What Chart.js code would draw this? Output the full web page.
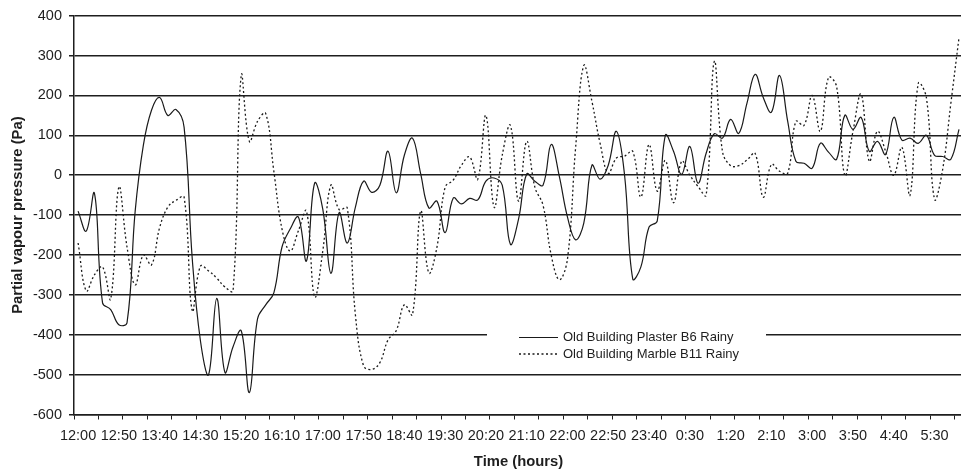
<!DOCTYPE html>
<html>
<head>
<meta charset="utf-8">
<script src="https://cdn.jsdelivr.net/npm/chart.js@4/dist/chart.umd.min.js"></script>
<style>
  html, body { margin: 0; padding: 0; background: #fff; overflow: hidden; }
  #wrap { position: relative; width: 961px; height: 474px; overflow: hidden; }
  #chart { display: block; }
</style>
</head>
<body>
<div id="wrap"><canvas id="chart" width="967" height="474"></canvas></div>
<script>
// Ten-minute readings, 12:00 through 6:00 the next morning
const timeLabels = [
  "12:00","12:10","12:20","12:30","12:40","12:50",
  "13:00","13:10","13:20","13:30","13:40","13:50",
  "14:00","14:10","14:20","14:30","14:40","14:50",
  "15:00","15:10","15:20","15:30","15:40","15:50",
  "16:00","16:10","16:20","16:30","16:40","16:50",
  "17:00","17:10","17:20","17:30","17:40","17:50",
  "18:00","18:10","18:20","18:30","18:40","18:50",
  "19:00","19:10","19:20","19:30","19:40","19:50",
  "20:00","20:10","20:20","20:30","20:40","20:50",
  "21:00","21:10","21:20","21:30","21:40","21:50",
  "22:00","22:10","22:20","22:30","22:40","22:50",
  "23:00","23:10","23:20","23:30","23:40","23:50",
  "0:00","0:10","0:20","0:30","0:40","0:50",
  "1:00","1:10","1:20","1:30","1:40","1:50",
  "2:00","2:10","2:20","2:30","2:40","2:50",
  "3:00","3:10","3:20","3:30","3:40","3:50",
  "4:00","4:10","4:20","4:30","4:40","4:50",
  "5:00","5:10","5:20","5:30","5:40","5:50",
  "6:00"
];

// Partial vapour pressure (Pa)
const plasterB6 = [
  -90, -140, -45, -320, -337, -375, -370, -90, 75, 163,
  195, 150, 165, 120, -210, -415, -500, -309, -494, -430,
  -390, -545, -360, -325, -295, -180, -135, -105, -215, -20,
  -85, -246, -94, -170, -80, -15, -43, -25, 60, -44,
  50, 93, 4, -82, -65, -144, -57, -72, -58, -62,
  -15, -7, -25, -173, -110, 3, -15, -25, 77, -3,
  -105, -162, -120, 25, -10, 25, 110, 0, -260, -230,
  -130, -115, 100, 60, 2, 72, -20, 55, 104, 93,
  140, 105, 180, 253, 195, 158, 250, 135, 35, 30,
  18, 80, 58, 40, 150, 115, 145, 60, 85, 52,
  145, 88, 93, 80, 100, 50, 47, 40, 115
];

const marbleB11 = [
  -170, -290, -250, -230, -310, -30, -180, -275, -200, -225,
  -131, -80, -63, -55, -340, -228, -240, -258, -280, -290,
  250, 85, 135, 155, 10, -135, -190, -140, -90, -305,
  -190, -25, -86, -82, -350, -478, -487, -470, -413, -390,
  -325, -350, -90, -245, -180, -30, -12, 25, 46, -10,
  150, -80, 50, 125, -65, 85, -30, -75, -200, -262,
  -210, 70, 275, 185, 80, 5, 43, 48, 60, -55,
  77, -40, 37, -69, 35, 0, -28, -50, 285, 60,
  24, 24, 38, 55, -55, 27, 10, 5, 135, 125,
  200, 110, 245, 222, 0, 110, 203, 35, 110, 60,
  0, 70, -50, 230, 195, -60, 15, 180, 345
];

const seriesNames = ["Old Building Plaster B6 Rainy", "Old Building Marble B11 Rainy"];

const yMin = -600, yMax = 400, yStep = 100;

const FONT = '"Liberation Sans", Arial, Helvetica, sans-serif';
const INK = '#1e1e1e';

// Legend sitting inside the plot, on a white patch over the grid
const insideLegend = {
  id: 'insideLegend',
  afterDraw(chart, args, opts) {
    const ctx = chart.ctx;
    ctx.save();
    ctx.fillStyle = '#ffffff';
    ctx.fillRect(opts.left, opts.top, opts.width, opts.height);
    chart.data.datasets.forEach((ds, i) => {
      const y = opts.rowY + i * opts.rowGap;
      ctx.beginPath();
      ctx.strokeStyle = ds.borderColor;
      ctx.lineWidth = ds.borderWidth;
      ctx.setLineDash(ds.borderDash || []);
      ctx.moveTo(opts.sampleX, y);
      ctx.lineTo(opts.sampleX + opts.sampleLen, y);
      ctx.stroke();
      ctx.setLineDash([]);
      ctx.fillStyle = INK;
      ctx.font = opts.fontSize + 'px ' + FONT;
      ctx.textBaseline = 'middle';
      ctx.textAlign = 'left';
      ctx.fillText(ds.label, opts.textX, y);
    });
    ctx.restore();
  }
};

new Chart(document.getElementById('chart'), {
  type: 'line',
  data: {
    labels: timeLabels,
    datasets: [
      {
        label: seriesNames[0],
        data: plasterB6,
        borderColor: '#1a1a1a',
        borderWidth: 1.2,
        pointRadius: 0,
        tension: 0.4,
        fill: false
      },
      {
        label: seriesNames[1],
        data: marbleB11,
        borderColor: '#1a1a1a',
        borderWidth: 1.3,
        borderDash: [2, 2.5],
        pointRadius: 0,
        tension: 0.4,
        fill: false
      }
    ]
  },
  plugins: [insideLegend],
  options: {
    responsive: false,
    animation: false,
    devicePixelRatio: 1,
    layout: { padding: { left: 0, right: 0, top: 14, bottom: 0 } },
    plugins: {
      legend: { display: false },
      tooltip: { enabled: false },
      insideLegend: {
        left: 487, top: 326, width: 279, height: 37,
        sampleX: 519, sampleLen: 39, textX: 563,
        rowY: 337.5, rowGap: 16.5, fontSize: 13
      }
    },
    scales: {
      x: {
        type: 'category',
        offset: true,
        grid: {
          offset: true,
          drawOnChartArea: false,
          drawTicks: true,
          tickLength: 5,
          lineWidth: 1,
          tickColor: c => (c.index !== undefined && c.index % 3 === 0) ? INK : 'rgba(0,0,0,0)'
        },
        border: { display: true, color: INK, width: 1.5 },
        ticks: {
          autoSkip: false,
          maxRotation: 0,
          minRotation: 0,
          padding: 8,
          color: INK,
          font: { family: FONT, size: 14.5 },
          callback: (value, index) => index % 5 === 0 ? timeLabels[index] : ''
        },
        title: {
          display: true,
          text: 'Time (hours)',
          color: INK,
          font: { family: FONT, size: 14.8, weight: 'bold' },
          padding: { top: 0, bottom: 3 }
        },
        afterFit: s => { s.height = 59.5; }
      },
      y: {
        min: yMin,
        max: yMax,
        ticks: {
          stepSize: yStep,
          padding: 7,
          color: INK,
          font: { family: FONT, size: 14.5 }
        },
        grid: { color: INK, lineWidth: 1.5, tickLength: 5, drawTicks: true },
        border: { display: true, color: INK, width: 1.5 },
        title: {
          display: true,
          text: 'Partial vapour pressure (Pa)',
          color: INK,
          font: { family: FONT, size: 14.8, weight: 'bold' },
          padding: { top: 9, bottom: 0 }
        },
        afterFit: s => { s.width = 74; }
      }
    }
  }
});
</script>
</body>
</html>
